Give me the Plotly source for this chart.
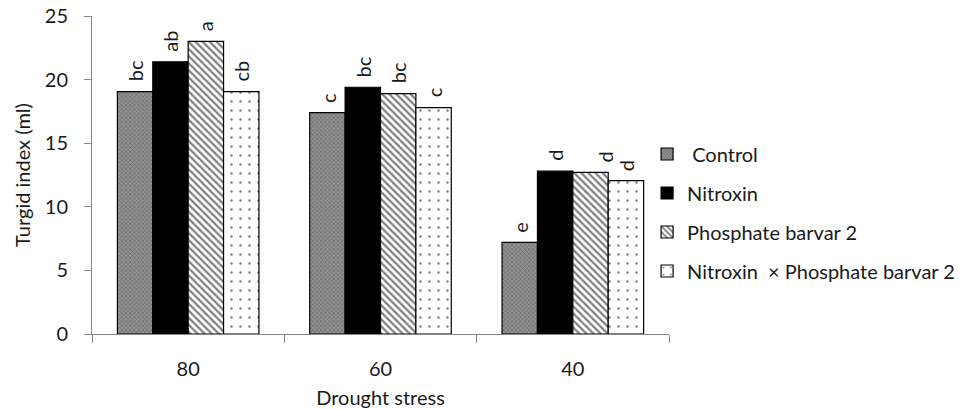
import plotly.graph_objects as go

categories = ["80", "60", "40"]
series_names = ["\u00a0Control", "Nitroxin", "Phosphate barvar 2", "Nitroxin \u00a0\u00d7 Phosphate barvar 2"]
control = [19.05, 17.4, 7.2]
nitroxin = [21.4, 19.4, 12.8]
phosphate = [23.0, 18.9, 12.7]
nxp = [19.05, 17.8, 12.05]
letters_control = ["bc", "c", "e"]
letters_nitroxin = ["ab", "bc", "d"]
letters_phosphate = ["a", "bc", "d"]
letters_nxp = ["cb", "c", "d"]

values = [control, nitroxin, phosphate, nxp]
letters = [letters_control, letters_nitroxin, letters_phosphate, letters_nxp]

FONT = "Lato"
TXT = "#1a1a1a"
AX = "#868686"
FS = 20

styles = [
    dict(color="#7a7a7a", pattern=dict(shape="x", fgcolor="#2e2e2e", bgcolor="#939393", size=3, solidity=0.35)),
    dict(color="black"),
    dict(color="white", pattern=dict(shape="\\", fgcolor="black", bgcolor="white", size=5, solidity=0.45)),
    dict(color="white", pattern=dict(shape=".", fgcolor="black", bgcolor="white", size=9, solidity=0.06)),
]

bargap = 0.264
fig = go.Figure()
for k, (name, vals) in enumerate(zip(series_names, values)):
    fig.add_trace(go.Bar(
        x=categories, y=vals, name=name, legendgroup=str(k),
        marker=dict(**styles[k], line=dict(color="black", width=1.2)),
    ))

# significance letters above the bars
barw = (1 - bargap) / 4
xshift_extra = {(2, 2): 14}
for k, labs in enumerate(letters):
    for i, lab in enumerate(labs):
        fig.add_annotation(
            x=i + (k - 1.5) * barw, y=values[k][i], xref="x", yref="y",
            text=lab, textangle=-90, showarrow=False,
            yanchor="bottom", xanchor="center", yshift=8,
            xshift=xshift_extra.get((i, k), 0),
            font=dict(family=FONT, size=FS, color=TXT),
        )

fig.update_layout(
    width=961, height=409,
    margin=dict(l=92, r=292, t=16, b=75, autoexpand=False),
    paper_bgcolor="white", plot_bgcolor="white",
    barmode="group", bargap=bargap, bargroupgap=0,
    font=dict(family=FONT, size=FS, color=TXT),
    showlegend=True,
    legend=dict(x=0.962, xanchor="left", y=0.382, yanchor="middle",
                font=dict(family=FONT, size=FS, color=TXT),
                traceorder="grouped", tracegroupgap=10,
                itemwidth=30, bgcolor="rgba(0,0,0,0)"),
    xaxis=dict(
        type="category", showline=True, linecolor=AX, linewidth=1,
        ticks="outside", tickson="boundaries", ticklen=8, tickcolor=AX,
        ticklabelstandoff=17, automargin=False,
        title=dict(text="Drought stress", font=dict(size=FS)),
        showgrid=False, zeroline=False,
    ),
    yaxis=dict(
        range=[0, 25], dtick=5, showline=True, linecolor=AX, linewidth=1,
        ticks="outside", ticklen=7, tickcolor=AX, ticklabelstandoff=12,
        automargin=False,
        title=dict(text="Turgid index (ml)", font=dict(size=FS), standoff=8),
        showgrid=False, zeroline=False,
    ),
)

fig.write_html(
    "out.html",
    config={"displayModeBar": False},
    post_script="document.body.style.margin='0';document.body.style.overflow='hidden';",
)
